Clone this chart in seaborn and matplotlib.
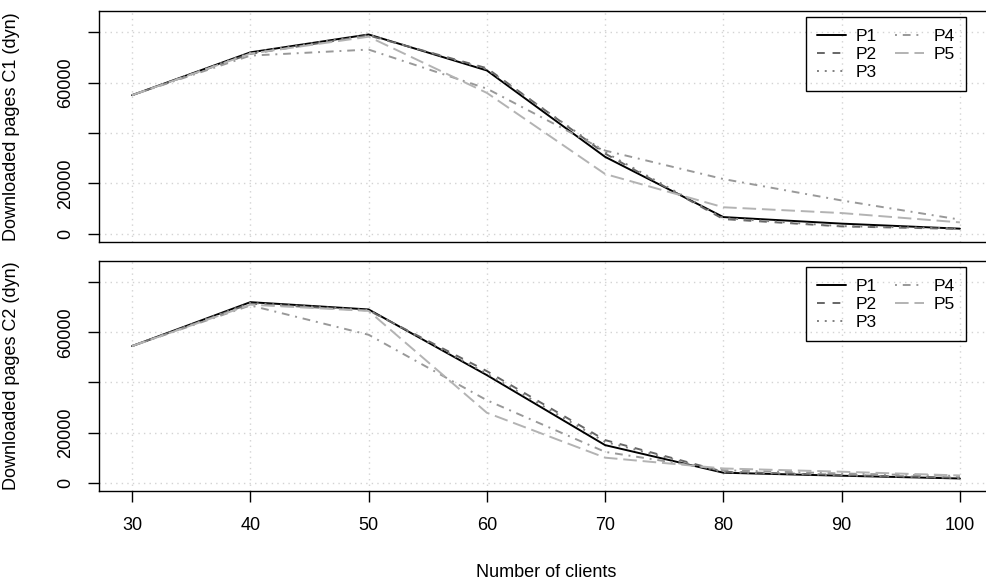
import numpy as np
import pandas as pd
import matplotlib
matplotlib.use("Agg")
import matplotlib.pyplot as plt
import seaborn as sns

# Number of clients on the x axis
clients = [30, 40, 50, 60, 70, 80, 90, 100]
policies = ["P1", "P2", "P3", "P4", "P5"]

# Downloaded pages, configuration C1
c1_p1 = [55000, 72000, 79100, 64800, 30500, 6600, 4000, 2000]
c1_p2 = [55000, 71400, 78700, 65700, 31800, 5800, 2900, 1900]
c1_p3 = [55000, 71900, 79000, 65300, 32300, 6200, 3000, 2100]
c1_p4 = [55000, 70700, 73100, 57600, 33000, 21700, 13200, 5600]
c1_p5 = [55000, 71500, 78200, 55900, 23700, 10500, 8200, 4500]

# Downloaded pages, configuration C2
c2_p1 = [54500, 72000, 69100, 42900, 15000, 4000, 2800, 1700]
c2_p2 = [54500, 71400, 68700, 44500, 17000, 4400, 3100, 2000]
c2_p3 = [54500, 71700, 68900, 43500, 16300, 4200, 3000, 1900]
c2_p4 = [54500, 70700, 59000, 32900, 12300, 5000, 3700, 2700]
c2_p5 = [54500, 71000, 68500, 27900, 10000, 5700, 4400, 2900]

y_ticks = [0, 20000, 40000, 60000, 80000]
y_tick_labels = ["0", "20000", "", "60000", ""]

colors = {"P1": "#000000", "P2": "#666666", "P3": "#808080", "P4": "#999999", "P5": "#b3b3b3"}
dashes = {"P1": "", "P2": (4, 4), "P3": (1, 3), "P4": (1, 3, 4, 3), "P5": (7, 3)}


def to_long(series):
    rows = []
    for name, vals in zip(policies, series):
        for x, v in zip(clients, vals):
            rows.append({"clients": x, "pages": v, "policy": name})
    return pd.DataFrame(rows)


df_c1 = to_long([c1_p1, c1_p2, c1_p3, c1_p4, c1_p5])
df_c2 = to_long([c2_p1, c2_p2, c2_p3, c2_p4, c2_p5])

sns.set_theme(style="white")
plt.rcParams["font.family"] = ["Liberation Sans", "DejaVu Sans"]
plt.rcParams["font.size"] = 13
plt.rcParams["text.color"] = "black"
plt.rcParams["axes.labelcolor"] = "black"
plt.rcParams["xtick.color"] = "black"
plt.rcParams["ytick.color"] = "black"

fig = plt.figure(figsize=(9.87, 5.87), dpi=100)
ax1 = fig.add_axes([0.1003, 0.5877, 0.9058, 0.3935])
ax2 = fig.add_axes([0.1003, 0.1635, 0.9058, 0.3918])

for ax, df, label in [(ax1, df_c1, "Downloaded pages C1 (dyn)"),
                      (ax2, df_c2, "Downloaded pages C2 (dyn)")]:
    sns.lineplot(data=df, x="clients", y="pages", hue="policy", style="policy",
                 palette=colors, dashes=dashes, linewidth=1.4, ax=ax)
    ax.set_xlim(27.2, 102.8)
    ax.set_ylim(-3300, 88400)
    ax.set_xticks(clients)
    ax.set_yticks(y_ticks)
    ax.set_yticklabels(y_tick_labels, rotation=90, va="center")
    ax.grid(True, color="#d3d3d3", linestyle=(0, (1, 3)), linewidth=1)
    ax.set_axisbelow(True)
    for s in ax.spines.values():
        s.set_color("black")
        s.set_linewidth(1)
    ax.tick_params(axis="y", direction="out", length=8, width=1, pad=10,
                   labelsize=13, left=True, color="black", labelcolor="black")
    ax.set_ylabel(label, fontsize=13, color="black")
    ax.yaxis.set_label_coords(-0.088, 0.5)

    handles, labels = ax.get_legend_handles_labels()
    leg = ax.legend(handles, labels, ncol=2, loc="upper right",
                    bbox_to_anchor=(0.970, 0.973), borderaxespad=0,
                    fontsize=12.5, frameon=True, fancybox=False, facecolor="none",
                    edgecolor="black", framealpha=1, handlelength=1.7,
                    handletextpad=0.55, columnspacing=1.0, labelspacing=0.17,
                    borderpad=0.65)
    leg.get_frame().set_linewidth(1)
    for t in leg.get_texts():
        t.set_color("black")

ax1.tick_params(axis="x", length=0, labelbottom=False)
ax1.set_xlabel("")
ax2.tick_params(axis="x", direction="out", length=8, width=1, pad=11,
                labelsize=13, bottom=True, color="black", labelcolor="black")
ax2.set_xlabel("Number of clients", fontsize=13, color="black")
ax2.xaxis.set_label_coords(0.5, -0.317)

fig.savefig("out.png", dpi=100)
